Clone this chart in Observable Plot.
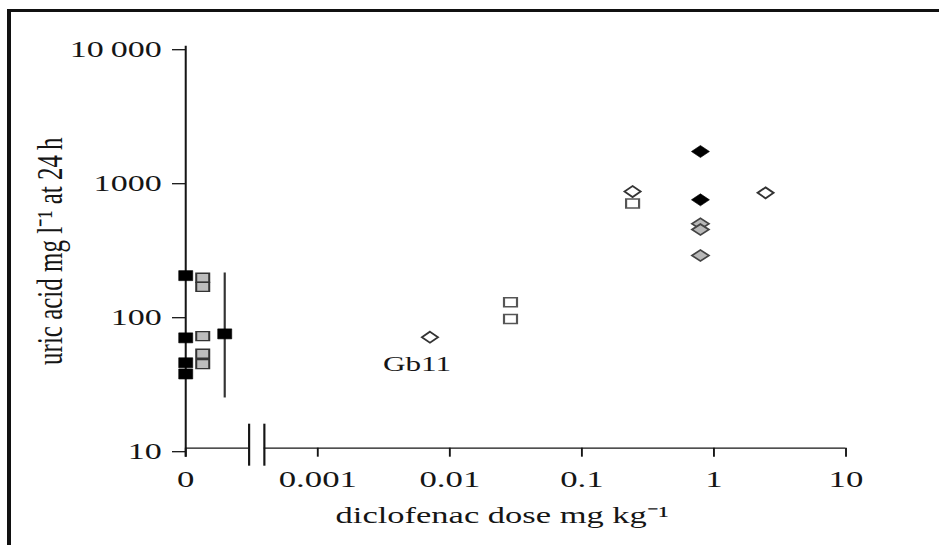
<!DOCTYPE html>
<html><head><meta charset="utf-8">
<script src="https://cdn.jsdelivr.net/npm/d3@7"></script>
<script src="https://cdn.jsdelivr.net/npm/@observablehq/plot@0.6"></script>
<style>
html,body{margin:0;padding:0;background:#fff;}
#wrap{position:relative;width:939px;height:545px;overflow:hidden;background:#fff;}
#frame{position:absolute;left:7px;top:9px;right:-20px;bottom:-20px;border-top:3px solid #111;border-left:4px solid #111;}
#chart{position:absolute;left:0;top:0;}
</style></head><body>
<div id="wrap"><div id="frame"></div><div id="chart"></div></div>
<script>
// ---------- data ----------
const yTicks = [10, 100, 1000, 10000];
const yTickLabels = ["10", "100", "1000", "10\u2009000"];
const xTicks = [0, 0.001, 0.01, 0.1, 1, 10];
const xTickLabels = ["0", "0.001", "0.01", "0.1", "1", "10"];
const xLabel = "diclofenac dose mg kg\u207B\u00B9";
const yLabel = "uric acid mg l\u207B\u00B9 at 24\u2009h";

// dose 0 (controls)
const ctrlBlackUric = [194, 66.6, 43.4, 35.8];
const ctrlGrayUric = [187, 160, 68.6, 50.7, 42.4];
const ctrlMeanUric = [71.3];
const ctrlMeanLow = [23.7];
const ctrlMeanHigh = [203];

// dosed birds
const openDiamondDose = [0.00707, 0.242, 2.46];
const openDiamondUric = [67.3, 823, 805];
const openSquareDose = [0.0288, 0.0288, 0.242];
const openSquareUric = [122.9, 92.2, 670];
const blackDiamondDose = [0.79, 0.79];
const blackDiamondUric = [1637, 714];
const grayDiamondDose = [0.79, 0.79, 0.79];
const grayDiamondUric = [473, 428, 274];
const annotations = [{dose: 0.00707, uric: 67.3, text: "Gb11"}];

// broken x axis: dose 0 is drawn one decade below 0.001; the break sits between
const ZERO_POS = 1e-4;
const axisBreak = [0.000302, 0.000394];

// ---------- layout ----------
const S = 1.45;               // horizontal stretch of the reference figure
const u = px => px / S;       // reference pixels -> unscaled svg units
const W = 939 / S;
const pos = d => (d === 0 ? ZERO_POS : d);

const zip = (xs, ys) => ys.map((y, i) => ({dose: xs[i], uric: y}));
const ctrlBlack = ctrlBlackUric.map(v => ({dose: 0, uric: v}));
const ctrlGray = ctrlGrayUric.map(v => ({dose: 0, uric: v}));
const ctrlMean = ctrlMeanUric.map((v, i) => ({dose: 0, uric: v, lo: ctrlMeanLow[i], hi: ctrlMeanHigh[i]}));
const openDiamonds = zip(openDiamondDose, openDiamondUric);
const openSquares = zip(openSquareDose, openSquareUric);
const blackDiamonds = zip(blackDiamondDose, blackDiamondUric);
const grayDiamonds = zip(grayDiamondDose, grayDiamondUric);

const rectSym = (w, h) => ({draw(ctx) {
  ctx.moveTo(-w / 2, -h / 2); ctx.lineTo(w / 2, -h / 2); ctx.lineTo(w / 2, h / 2); ctx.lineTo(-w / 2, h / 2); ctx.closePath();
}});
const diamondSym = (w, h) => ({draw(ctx) {
  ctx.moveTo(0, -h / 2); ctx.lineTo(w / 2, 0); ctx.lineTo(0, h / 2); ctx.lineTo(-w / 2, 0); ctx.closePath();
}});

const X = d => pos(d.dose);
const FONT = "'Liberation Serif', 'Times New Roman', serif";
const INK = "#151515";

const chart = Plot.plot({
  width: W,
  height: 545,
  marginLeft: u(185),
  marginRight: W - u(845.3),
  marginTop: 45.7,
  marginBottom: 545 - 447.7,
  x: {type: "log", domain: [ZERO_POS, 10]},
  y: {type: "log", domain: [10, 10000]},
  style: {fontFamily: FONT, fontSize: "23px", color: INK, background: "transparent", overflow: "visible"},
  marks: [
    // axes
    Plot.axisY(yTicks, {tickSize: u(13), tickPadding: u(11), dy: 3.5, label: null, stroke: INK, strokeWidth: 1.3,
      tickFormat: d => yTickLabels[yTicks.indexOf(d)], fontSize: 23.5}),
    Plot.axisX(xTicks.map(pos), {tickSize: 9, tickPadding: 13, label: null, stroke: INK, strokeWidth: 1.3,
      tickFormat: d => xTickLabels[xTicks.map(pos).indexOf(d)], fontSize: 24}),
    Plot.ruleX([ZERO_POS], {y1: 10000, y2: 10, insetBottom: -9, stroke: INK, strokeWidth: 1.4}),
    Plot.ruleY([[ZERO_POS, axisBreak[0]], [axisBreak[1], 10]], {y: 10, x1: d => d[0], x2: d => d[1], stroke: INK, strokeWidth: 1.3}),
    Plot.ruleX(axisBreak, {y1: 10, y2: 10, insetTop: -24, insetBottom: -18, stroke: INK, strokeWidth: 1.5}),
    // controls
    Plot.ruleX(ctrlMean, {x: X, y1: "lo", y2: "hi", dx: u(39), stroke: "#333", strokeWidth: 1.5}),
    Plot.dot(ctrlBlack, {x: X, y: "uric", symbol: rectSym(u(14), 10), fill: "#000", stroke: "#000", strokeWidth: 0.5}),
    Plot.dot(ctrlGray, {x: X, y: "uric", dx: u(17), symbol: rectSym(u(13), 9), fill: "#bdbdbd", stroke: "#333", strokeWidth: 1.4}),
    Plot.dot(ctrlMean, {x: X, y: "uric", dx: u(39), symbol: rectSym(u(14), 10), fill: "#000", stroke: "#000", strokeWidth: 0.5}),
    // dosed
    Plot.dot(openSquares, {x: X, y: "uric", symbol: rectSym(u(13), 9), fill: "#fff", stroke: "#555", strokeWidth: 1.5}),
    Plot.dot(openDiamonds, {x: X, y: "uric", symbol: diamondSym(u(16), 11), fill: "#fff", stroke: "#333", strokeWidth: 1.6}),
    Plot.dot(blackDiamonds, {x: X, y: "uric", symbol: diamondSym(u(18), 12), fill: "#000", stroke: "#000", strokeWidth: 0.5}),
    Plot.dot(grayDiamonds, {x: X, y: "uric", symbol: diamondSym(u(17), 11), fill: "#b8b8b8", stroke: "#444", strokeWidth: 1.5}),
    // text
    Plot.text(annotations, {x: X, y: "uric", text: "text", dx: u(-13), dy: 27, fontSize: 21.5, fill: INK}),
    Plot.text([xLabel], {text: d => d, frameAnchor: "bottom", textAnchor: "middle", dx: u(501.5) - (u(185) + u(845.3)) / 2, dy: 75, fontSize: 23.8, fill: INK}),
    Plot.text([yLabel], {text: d => d, frameAnchor: "left", textAnchor: "middle", rotate: -90, dx: u(50) - u(185), dy: 4, fontSize: 25, fill: INK})
  ]
});
chart.style.transform = `scaleX(${S})`;
chart.style.transformOrigin = "0 0";
chart.style.maxWidth = "none";
document.getElementById("chart").appendChild(chart);
</script>
</body></html>
